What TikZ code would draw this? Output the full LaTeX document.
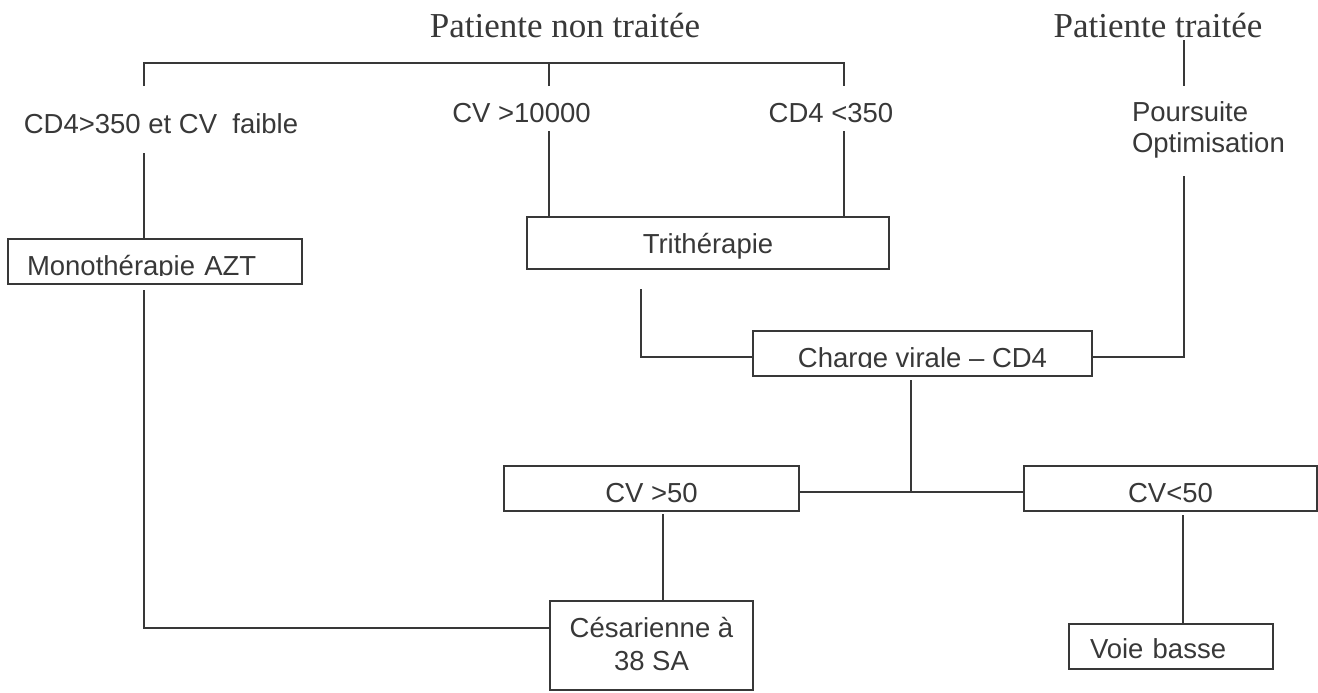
\documentclass[tikz,border=0pt]{standalone}
\usepackage{fontspec}
\usepackage{trimclip}
\setmainfont{Liberation Serif}
\setsansfont{Liberation Sans}

\newcommand\coupe[1]{\clipbox{0pt {\depth} 0pt 0pt}{#1}}

\tikzset{
  titre/.style={font=\fontsize{17.5}{21}\selectfont, inner sep=0pt},
  etiq/.style={font=\sffamily\fontsize{13.75}{15.5}\selectfont, inner sep=0pt},
  boite/.style={draw, rectangle, font=\sffamily\fontsize{13.75}{16.5}\selectfont,
    inner sep=0pt, minimum height=22.5pt, text depth=0pt},
}

\begin{document}
\begin{tikzpicture}[x=0.5pt, y=-0.5pt, line width=1pt, color=black!78]
    \useasboundingbox (0,0) rectangle (1318,692);
    \node[titre, anchor=base] (nontraitee) at (565,37) {Patiente non traitée};
    \node[titre, anchor=base] (traitee) at (1158,37) {Patiente traitée};
    \node[etiq, anchor=base] (cdfort) at (161,133) {CD4>350 et CV\ \ faible};
    \node[etiq, anchor=base] (cvdix) at (521.5,122) {CV >10000};
    \node[etiq, anchor=base] (cdbas) at (831,122) {CD4 <350};
    \node[etiq, anchor=north west, align=left] (poursuite) at (1131,101) {Poursuite\\Optimisation};
    \node[boite, minimum width=147pt, text height=14pt, text width=128pt, inner xsep=9.5pt, align=left] (mono) at (155,261) {\coupe{Monothérapie AZT}};
    \node[boite, minimum width=181pt, minimum height=26pt, text height=10pt] (tri) at (708,243) {Trithérapie};
    \node[boite, minimum width=169.5pt, text height=13.5pt] (cv) at (922.5,353.5) {\coupe{Charge virale – CD4}};
    \node[boite, minimum width=147.5pt, text height=13.5pt] (cvhaut) at (651.5,488.5) {CV >50};
    \node[boite, minimum width=146.5pt, text height=13.5pt] (cvbas) at (1170.5,488.5) {CV<50};
    \node[boite, minimum width=101.5pt, minimum height=44.5pt, text height=24.5pt, align=center] (cesar) at (651.5,645.5) {Césarienne à\\38 SA};
    \node[boite, minimum width=102pt, text height=11.5pt, text width=81pt, inner xsep=10.5pt, align=left] (voie) at (1171,646.5) {\coupe{Voie basse}};

    \coordinate (b1) at (144,86);
    \coordinate (b2) at (549,86);
    \coordinate (b3) at (844,86);
    \coordinate (btop) at (549,63);
    \coordinate (s1) at (144,153);
    \coordinate (s2) at (549,131);
    \coordinate (s3) at (844,131);
    \coordinate (pt1) at (1184,40);
    \coordinate (pt2) at (1184,86);
    \coordinate (p2) at (1184,176);
    \coordinate (t1) at (641,289);
    \coordinate (m1) at (144,290);
    \coordinate (c1) at (911,380);
    \coordinate (j) at (911,492);
    \coordinate (h1) at (663,514);
    \coordinate (l1) at (1183,515);

    \draw (b1) |- (btop) -| (b3);
    \draw (b2) -- (btop);
    \draw (pt1) -- (pt2);
    \draw (s1) -- (s1 |- mono.north);
    \draw (s2) -- (s2 |- tri.north);
    \draw (s3) -- (s3 |- tri.north);
    \draw (t1) |- ([yshift=-1.75pt]cv.west);
    \draw (p2) |- ([yshift=-1.75pt]cv.east);
    \draw (c1) -- (j);
    \draw (cvhaut.east |- j) -- (cvbas.west |- j);
    \draw (h1) -- (h1 |- cesar.north);
    \draw (l1) -- (l1 |- voie.north);
    \draw (m1) |- ([yshift=9pt]cesar.west);
\end{tikzpicture}
\end{document}
